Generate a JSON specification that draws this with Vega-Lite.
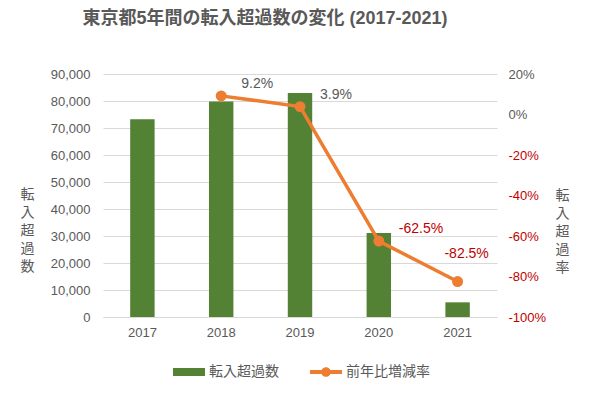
{
  "$schema": "https://vega.github.io/schema/vega-lite/v6.json",
  "width": 394,
  "height": 243,
  "autosize": {"type": "none"},
  "padding": {"left": 103, "top": 74, "right": 100, "bottom": 80},
  "background": "white",
  "config": {
    "view": {"stroke": null},
    "font": "Liberation Sans, Noto Sans CJK JP, sans-serif",
    "locale": {
      "number": {"decimal": ".", "thousands": ",", "grouping": [3], "currency": ["$", ""], "minus": "-"}
    }
  },
  "title": {
    "text": "東京都5年間の転入超過数の変化 (2017-2021)",
    "fontSize": 18,
    "fontWeight": "bold",
    "color": "#595959",
    "font": "Liberation Sans, Noto Sans CJK JP, sans-serif",
    "anchor": "middle",
    "dx": -35,
    "offset": 40
  },
  "data": {
    "values": [
      {"year": "2017", "inflow": 73241, "rate": null},
      {"year": "2018", "inflow": 79844, "rate": 0.092},
      {"year": "2019", "inflow": 82982, "rate": 0.039},
      {"year": "2020", "inflow": 31125, "rate": -0.625},
      {"year": "2021", "inflow": 5433, "rate": -0.825}
    ]
  },
  "encoding": {
    "x": {
      "field": "year",
      "type": "ordinal",
      "scale": {"paddingInner": 0.69, "paddingOuter": 0.345},
      "axis": {
        "title": null,
        "labelAngle": 0,
        "domain": true,
        "domainColor": "#D9D9D9",
        "ticks": false,
        "labelColor": "#595959",
        "labelFontSize": 13,
        "labelPadding": 9,
        "grid": false
      }
    }
  },
  "layer": [
    {
      "mark": {"type": "bar"},
      "encoding": {
        "y": {
          "field": "inflow",
          "type": "quantitative",
          "scale": {"domain": [0, 90000]},
          "axis": {
            "title": ["転", "入", "超", "過", "数"],
            "titleAngle": 0,
            "titleX": -76,
            "titleY": 120,
            "titleAlign": "center",
            "titleBaseline": "middle",
            "titleFont": "Noto Sans CJK JP",
            "titleFontSize": 14,
            "titleLineHeight": 18,
            "titleFontWeight": "normal",
            "titleColor": "#595959",
            "labelColor": "#595959",
            "labelFontSize": 13,
            "labelPadding": 13,
            "ticks": false,
            "domain": false,
            "grid": true,
            "gridColor": "#D9D9D9",
            "values": [0, 10000, 20000, 30000, 40000, 50000, 60000, 70000, 80000, 90000],
            "format": ",d"
          }
        },
        "color": {
          "datum": "転入超過数",
          "scale": {"domain": ["転入超過数", "前年比増減率"], "range": ["#548235", "#ED7D31"]},
          "legend": {
            "orient": "none",
            "legendX": 70,
            "legendY": 282,
            "direction": "horizontal",
            "title": null,
            "labelFont": "Noto Sans CJK JP",
            "labelFontSize": 14,
            "labelColor": "#595959",
            "symbolSize": 1024,
            "labelOffset": 4,
            "columnPadding": 31,
            "encode": {
              "symbols": {
                "update": {
                  "shape": {"signal": "datum.value === '転入超過数' ? 'M-1,-0.25H1V0.25H-1Z' : 'M-1,-0.125H1V0.125H-1Z M0.3,0A0.3,0.3 0 1 1 -0.3,0A0.3,0.3 0 1 1 0.3,0Z'"},
                  "fill": {"signal": "datum.value === '転入超過数' ? '#548235' : '#ED7D31'"},
                  "stroke": {"value": "transparent"},
                  "strokeWidth": {"value": 0},
                  "opacity": {"value": 1}
                }
              }
            }
          }
        }
      }
    },
    {
      "encoding": {
        "y": {
          "field": "rate",
          "type": "quantitative",
          "scale": {"domain": [-1, 0.2]},
          "axis": {
            "orient": "right",
            "title": ["転", "入", "超", "過", "率"],
            "titleAngle": 0,
            "titleX": 65,
            "titleY": 121,
            "titleAlign": "center",
            "titleBaseline": "middle",
            "titleFont": "Noto Sans CJK JP",
            "titleFontSize": 14,
            "titleLineHeight": 18,
            "titleFontWeight": "normal",
            "titleColor": "#595959",
            "labelColor": {"condition": {"test": "datum.value < 0", "value": "#C00000"}, "value": "#595959"},
            "labelFontSize": 13,
            "labelPadding": 11,
            "ticks": false,
            "domain": false,
            "grid": false,
            "values": [-1, -0.8, -0.6, -0.4, -0.2, 0, 0.2],
            "format": ".0%"
          }
        }
      },
      "layer": [
        {
          "mark": {"type": "line", "strokeWidth": 3.5},
          "encoding": {"color": {"datum": "前年比増減率"}}
        },
        {
          "mark": {"type": "point", "filled": true, "size": 120, "opacity": 1, "shape": "circle"},
          "encoding": {"color": {"datum": "前年比増減率"}}
        },
        {
          "transform": [{"filter": "datum.year !== '2021'"}],
          "mark": {"type": "text", "align": "left", "baseline": "middle", "dx": 20, "dy": -12, "fontSize": 14},
          "encoding": {
            "text": {"field": "rate", "type": "quantitative", "format": ".1%"},
            "color": {"condition": {"test": "datum.rate < 0", "value": "#C00000"}, "value": "#595959"}
          }
        },
        {
          "transform": [{"filter": "datum.year === '2021'"}],
          "mark": {"type": "text", "align": "center", "baseline": "middle", "dx": 9, "dy": -28, "fontSize": 14},
          "encoding": {
            "text": {"field": "rate", "type": "quantitative", "format": ".1%"},
            "color": {"condition": {"test": "datum.rate < 0", "value": "#C00000"}, "value": "#595959"}
          }
        }
      ]
    }
  ],
  "resolve": {"scale": {"y": "independent"}}
}
